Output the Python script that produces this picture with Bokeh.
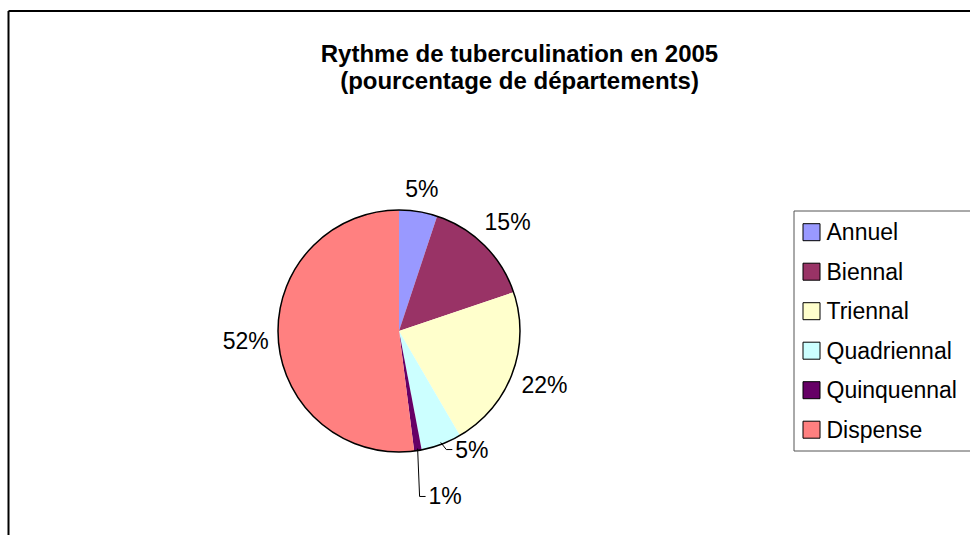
import math
from bokeh.plotting import figure
from bokeh.models import Range1d, ColumnDataSource
from bokeh.embed import file_html
from bokeh.resources import INLINE
from bokeh.core.properties import value

# ---------------- data ----------------
title_lines = ["Rythme de tuberculination en 2005", "(pourcentage de départements)"]
categories = ["Annuel", "Biennal", "Triennal", "Quadriennal", "Quinquennal", "Dispense"]
percentages = [5.1, 14.7, 21.8, 5.4, 1.0, 52.0]
colors = ["#9999FF", "#993366", "#FFFFCC", "#CCFFFF", "#660066", "#FF8080"]

# ---------------- layout ----------------
W, H = 970, 535
def sy(y):                   # screen y -> data y (1 data unit = 1 px)
    return H - y

FONT = "Liberation Sans"
CX, CY, R = 398.5, sy(330.5), 121
LABEL_PX = 23
GAP = 9
# manually moved labels (polar: degrees clockwise from top, distance from centre)
manual_labels = {"Quadriennal": (148.4, 139.2), "Quinquennal": (164.4, 171.8)}

def text_w(s):
    em = {"%": 0.889}
    return sum(em.get(c, 0.556) for c in s) * LABEL_PX

p = figure(width=W, height=H, output_backend="svg", toolbar_location=None,
           x_range=Range1d(0, W), y_range=Range1d(0, H),
           x_axis_type=None, y_axis_type=None, min_border=0,
           background_fill_color="white", border_fill_color="white")
p.grid.visible = False
p.outline_line_color = None

# chart frame (top and left edges visible; right/bottom lie beyond the window)
p.segment(x0=[8, 8], y0=[sy(10.5), sy(10.5)], x1=[8, 2000], y1=[-100, sy(10.5)],
          line_color="black", line_width=2)

# title
p.text(x=[519, 519], y=[sy(53), sy(80)], text=title_lines,
       text_font=value(FONT), text_font_style="bold", text_font_size=value("24px"),
       text_align="center", text_baseline="alphabetic", text_color="black")

# pie wedges
total = sum(percentages)
cum = [0.0]
for v in percentages:
    cum.append(cum[-1] + v / total)
start = [math.pi / 2 - 2 * math.pi * c for c in cum[:-1]]
end = [math.pi / 2 - 2 * math.pi * c for c in cum[1:]]
src = ColumnDataSource(dict(start=start, end=end, color=colors, cat=categories))
p.wedge(x=CX, y=CY, radius=R, start_angle="start", end_angle="end",
        direction="clock", fill_color="color", line_color=None, source=src)
p.scatter(x=[CX], y=[CY], size=2 * R, marker="circle", fill_color=None,
          line_color="black", line_width=1.5)

# data labels
lx, ly, lt = [], [], []
seg_x, seg_y = [], []
for i, cat in enumerate(categories):
    txt = f"{round(percentages[i] / total * 100)}%"
    mid = 2 * math.pi * (cum[i] + cum[i + 1]) / 2       # clockwise from top
    w = text_w(txt)
    if cat in manual_labels:
        a, d = manual_labels[cat]
        a = math.radians(a)
        x = CX + d * math.sin(a)
        y = CY + d * math.cos(a)
        # leader line
        sx0 = CX + (R - 2) * math.sin(mid)
        sy0 = CY + (R - 2) * math.cos(mid)
        tail_end = x - w / 2 - 3
        elbow = tail_end - 6
        seg_x.append([sx0, elbow, tail_end])
        seg_y.append([sy0, y, y])
    else:
        d = R + GAP + abs(math.sin(mid)) * w / 2 + abs(math.cos(mid)) * 11
        x = CX + d * math.sin(mid)
        y = CY + d * math.cos(mid)
    lx.append(x); ly.append(y); lt.append(txt)

p.multi_line(xs=seg_x, ys=seg_y, line_color="black", line_width=1)
p.text(x=lx, y=ly, text=lt, text_font=value(FONT), text_font_size=value(f"{LABEL_PX}px"),
       text_align="center", text_baseline="middle", text_color="black")

# legend
LEG_L, LEG_T, LEG_B = 793.5, 210.5, 450.5
p.quad(left=[LEG_L], right=[2000], top=[sy(LEG_T)], bottom=[sy(LEG_B)],
       fill_color="white", line_color="#555555", line_width=1)
row_y = [sy(231.7 + 39.5 * i) for i in range(len(categories))]
p.rect(x=[811] * len(categories), y=row_y, width=17, height=17,
       fill_color=colors, line_color="black", line_width=1)
p.text(x=[826] * len(categories), y=row_y, text=categories,
       text_font=value(FONT), text_font_size=value(f"{LABEL_PX}px"),
       text_align="left", text_baseline="middle", text_color="black")

open("out.html", "w").write(file_html(p, INLINE))
